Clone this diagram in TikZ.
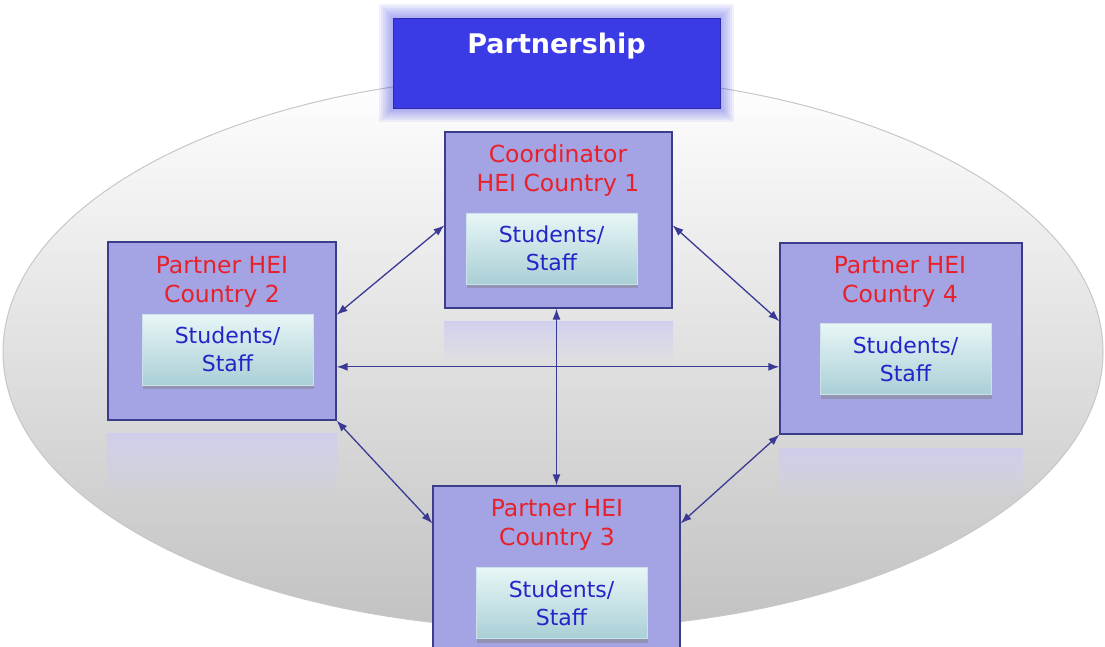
\documentclass[tikz,border=0pt]{standalone}
\usepackage{fontspec}
\setmainfont{DejaVu Sans}
\usetikzlibrary{arrows.meta,positioning,calc,shadows,fadings}

\definecolor{heifill}{HTML}{A4A4E4}
\definecolor{heiline}{HTML}{3C3C8C}
\definecolor{titlered}{HTML}{E8202A}
\definecolor{staffblue}{HTML}{2424C8}
\definecolor{partblue}{HTML}{3B3BE6}
\definecolor{linkblue}{HTML}{3A3A96}
\definecolor{stafftop}{HTML}{E8F6F6}
\definecolor{staffbot}{HTML}{A9CFD6}

\tikzfading[name=fade down, top color=transparent!0, bottom color=transparent!100]

\tikzset{
  hei/.style={rectangle, draw=heiline, fill=heifill, line width=1.2pt, inner sep=0pt},
  heititle/.style={text=titlered, align=center, inner sep=0pt, font=\fontsize{23.5}{29}\selectfont},
  staffbox/.style={rectangle, top color=stafftop, bottom color=staffbot, draw=staffbot!60!white,
    minimum width=171pt, minimum height=71pt, inner sep=0pt, text=staffblue, align=center,
    font=\fontsize{22}{28}\selectfont,
    drop shadow={shadow xshift=1pt, shadow yshift=-4pt, opacity=0.45}},
  heimirror/.style={fill=heifill!55!white, path fading=fade down, fill opacity=0.85},
  link/.style={{Latex[length=11pt,width=8pt]}-{Latex[length=11pt,width=8pt]}, draw=linkblue, line width=1.3pt},
}

\begin{document}
\begin{tikzpicture}[x=1pt, y=-1pt]
    \useasboundingbox (0,0) rectangle (1105,646);

    % backdrop
    \shade[top color=white, middle color=white!96!black, bottom color=white!76!black,
      draw=white!78!black, line width=1pt] (553,352) ellipse [x radius=550, y radius=277];

    % title banner with glow
    \foreach \g in {2,4,...,14}
        \fill[partblue, opacity=0.07] (393-\g,18-\g) rectangle (720+\g,108+\g);
    \node[rectangle, fill=partblue, draw=partblue!75!black, line width=1pt,
      minimum width=327pt, minimum height=90pt] (part) at (556.5,63) {};
    \node[text=white, font=\fontsize{27}{32}\selectfont\bfseries] (ptxt) at (556.5,46) {Partnership};

    % institutions
    \node[hei, minimum width=227pt, minimum height=176pt] (b1) at (558.5,220) {};
    \node[hei, minimum width=228pt, minimum height=178pt] (b2) at (222,331) {};
    \node[hei, minimum width=247pt, minimum height=180pt] (b3) at (556.5,576) {};
    \node[hei, minimum width=242pt, minimum height=191pt] (b4) at (901,338.5) {};

    \node[heititle] (t1) at (558,171) {Coordinator\\HEI Country 1};
    \node[heititle] (t2) at (222,282) {Partner HEI\\Country 2};
    \node[heititle] (t3) at (557,525) {Partner HEI\\Country 3};
    \node[heititle] (t4) at (900,282) {Partner HEI\\Country 4};

    \node[staffbox] (s1) at (551.5,248.5) {Students/\\Staff};
    \node[staffbox] (s2) at (227.5,349.5) {Students/\\Staff};
    \node[staffbox] (s3) at (561.5,603) {Students/\\Staff};
    \node[staffbox] (s4) at (905.5,359) {Students/\\Staff};

    % reflections
    \fill[heimirror] ($(b1.south west)+(0,12)$) rectangle ($(b1.south east)+(0,54)$);
    \fill[heimirror] ($(b2.south west)+(0,12)$) rectangle ($(b2.south east)+(0,80)$);
    \fill[heimirror] ($(b4.south west)+(0,13)$) rectangle ($(b4.south east)+(0,66)$);

    % exchanges
    \coordinate (a21) at ($(b2.north east)!0.41!(b2.south east)$);
    \coordinate (a24) at ($(b2.north east)!0.70!(b2.south east)$);
    \coordinate (a12) at ($(b1.north west)!0.53!(b1.south west)$);
    \coordinate (a14) at ($(b1.north east)!0.53!(b1.south east)$);
    \coordinate (a41) at ($(b4.north west)!0.41!(b4.south west)$);
    \coordinate (a32) at ($(b3.north west)!0.21!(b3.south west)$);
    \coordinate (a34) at ($(b3.north east)!0.21!(b3.south east)$);

    \draw[link] (a21) -- (a12);
    \draw[link] (a14) -- (a41);
    \draw[link] (a24) -- (a24 -| b4.west);
    \draw[link] (b3.north |- b1.south) -- (b3.north);
    \draw[link] (b2.south east) -- (a32);
    \draw[link] (b4.south west) -- (a34);
\end{tikzpicture}
\end{document}
